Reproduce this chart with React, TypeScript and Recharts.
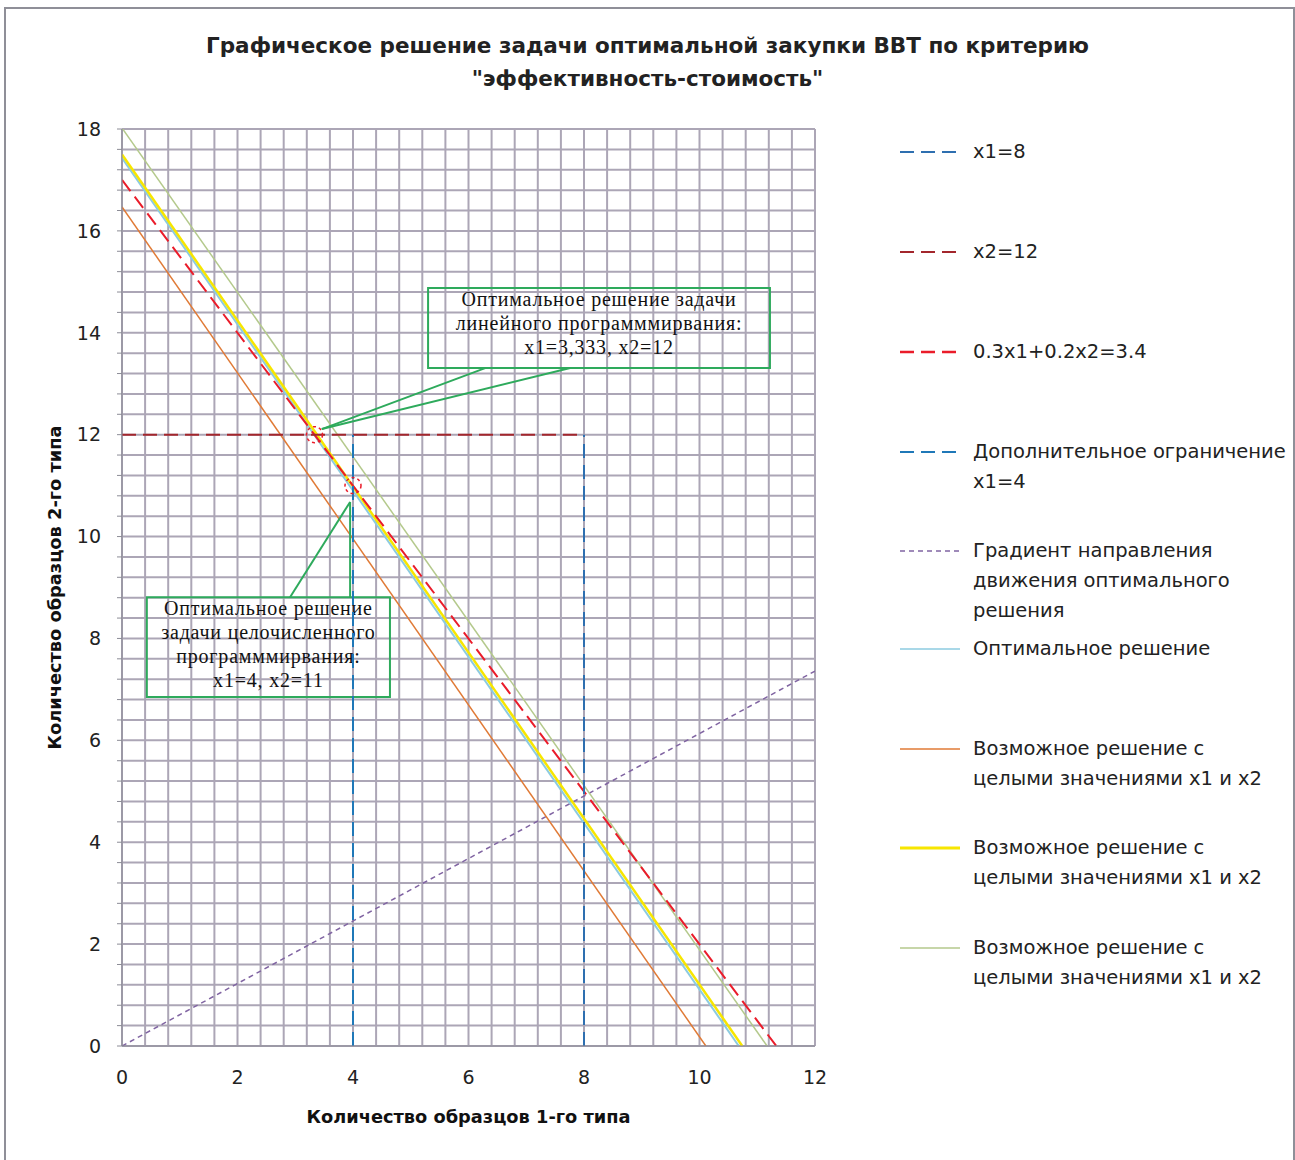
import React from 'react';
import {
  LineChart, Line, XAxis, YAxis, CartesianGrid, ReferenceArea, ReferenceLine, ReferenceDot, Label,
} from 'recharts';

// значения
const gridX = Array.from({ length: 31 }, (_, i) => Number((i * 0.4).toFixed(1)));
const gridY = Array.from({ length: 46 }, (_, i) => Number((i * 0.4).toFixed(1)));

const limitX1 = [{ x: 8, y: 0 }, { x: 8, y: 12 }];
const limitX2 = [{ x: 0, y: 12 }, { x: 8, y: 12 }];
const costLine = [{ x: 0, y: 17 }, { x: 11.33, y: 0 }];
const extraX1 = [{ x: 4, y: 0 }, { x: 4, y: 12 }];
const gradient = [{ x: 0, y: 0 }, { x: 12, y: 7.36 }];
const optimal = [{ x: 0, y: 17.43 }, { x: 10.68, y: 0 }];
const intOrange = [{ x: 0, y: 16.47 }, { x: 10.11, y: 0 }];
const intYellow = [{ x: 0, y: 17.5 }, { x: 10.74, y: 0 }];
const intGreen = [{ x: 0, y: 18.02 }, { x: 11.17, y: 0 }];

const lpPoint = { x: 3.333, y: 12 };
const ipPoint = { x: 4, y: 11 };

const lpText = ['Оптимальное решение задачи', 'линейного программмирвания:', 'x1=3,333, x2=12'];
const ipText = ['Оптимальное решение', 'задачи целочисленного', 'программмирвания:', 'x1=4, x2=11'];

const legendItems = [
  { name: 'x1=8', color: '#2e6fb0', dash: '14 7', width: 2, top: 140 },
  { name: 'x2=12', color: '#a3262c', dash: '14 7', width: 2, top: 240 },
  { name: '0.3x1+0.2x2=3.4', color: '#ea1c2a', dash: '14 7', width: 2.5, top: 340 },
  { name: 'Дополнительное ограничение\nx1=4', color: '#1f78b8', dash: '14 7', width: 2, top: 440 },
  { name: 'Градиент направления\nдвижения оптимального\nрешения', color: '#8064a2', dash: '5 4', width: 1.5, top: 539 },
  { name: 'Оптимальное решение', color: '#8ccbe0', dash: '', width: 1.5, top: 637 },
  { name: 'Возможное решение с\nцелыми значениями x1 и x2', color: '#e07a36', dash: '', width: 1.5, top: 737 },
  { name: 'Возможное решение с\nцелыми значениями x1 и x2', color: '#f7e600', dash: '', width: 3, top: 836 },
  { name: 'Возможное решение с\nцелыми значениями x1 и x2', color: '#b4c98c', dash: '', width: 1.5, top: 936 },
];

const GREEN = '#2eaa5c';
const GRID = '#aca6b6';

const isMajor = (v: number) => Math.abs(v / 2 - Math.round(v / 2)) < 1e-6;

const XTick = ({ x, y, payload }: any) =>
  isMajor(payload.value) ? (
    <text x={x} y={y} dy="0.71em" textAnchor="middle" fontSize={19} fill="#222">{payload.value}</text>
  ) : null;

const YTick = ({ x, y, payload }: any) =>
  isMajor(payload.value) ? (
    <text x={x} y={y} dy="0.355em" textAnchor="end" fontSize={19} fill="#222">{payload.value}</text>
  ) : null;

const BoxText = ({ viewBox, lines }: any) => {
  const { x, y, width } = viewBox;
  return (
    <text x={x + width / 2} textAnchor="middle" fontFamily="'Liberation Serif', serif" fontSize={20} letterSpacing={0.8} fill="#111">
      {lines.map((t: string, i: number) => (
        <tspan key={i} x={x + width / 2} y={y + 18 + i * 24}>{t}</tspan>
      ))}
    </text>
  );
};

export default function App() {
  return (
    <div style={{ position: 'relative', width: 1295, height: 1160, background: '#fff', fontFamily: "'DejaVu Sans', sans-serif", overflow: 'hidden' }}>
      <style>{'body{margin:0}'}</style>
      <div style={{ position: 'absolute', left: 4, top: 7, width: 1287, height: 1160, borderLeft: '2px solid #8f8f98', borderTop: '2px solid #8f8f98', borderRight: '2px solid #8f8f98' }} />
      <div style={{ position: 'absolute', left: 0, top: 29, width: 1295, textAlign: 'center', fontWeight: 'bold', fontSize: 21.5, lineHeight: '33px', color: '#222' }}>
        Графическое решение задачи оптимальной закупки ВВТ по критерию<br />"эффективность-стоимость"
      </div>

      <div style={{ position: 'absolute', left: 0, top: 0 }}>
        <LineChart width={1295} height={1160} margin={{ top: 129, right: 480, bottom: 84, left: 62 }}>
          <CartesianGrid stroke={GRID} strokeWidth={2} />
          <XAxis
            type="number" dataKey="x" domain={[0, 12]} ticks={gridX} interval={0} allowDataOverflow
            stroke="#8c8c96" tick={<XTick />} tickLine={false} tickMargin={19} height={30}
          >
            <Label value="Количество образцов  1-го типа" position="bottom" offset={34} style={{ fontWeight: 'bold', fontSize: 17.8, fill: '#111' }} />
          </XAxis>
          <YAxis
            type="number" domain={[0, 18]} ticks={gridY} interval={0} allowDataOverflow
            stroke="#8c8c96" tick={<YTick />} tickSize={5} tickMargin={16} width={60}
          >
            <Label value="Количество образцов  2-го типа" angle={-90} position="left" offset={7} style={{ fontWeight: 'bold', fontSize: 17.8, fill: '#111', textAnchor: 'middle' }} />
          </YAxis>

          <Line data={gradient} dataKey="y" stroke="#8064a2" strokeWidth={1.5} strokeDasharray="5 4" dot={false} isAnimationActive={false} />
          <Line data={intOrange} dataKey="y" stroke="#e07a36" strokeWidth={1.5} dot={false} isAnimationActive={false} />
          <Line data={intGreen} dataKey="y" stroke="#b4c98c" strokeWidth={1.5} dot={false} isAnimationActive={false} />
          <Line data={optimal} dataKey="y" stroke="#8ccbe0" strokeWidth={2} dot={false} isAnimationActive={false} />
          <Line data={intYellow} dataKey="y" stroke="#f7e600" strokeWidth={2.5} dot={false} isAnimationActive={false} />
          <Line data={costLine} dataKey="y" stroke="#ea1c2a" strokeWidth={2} strokeDasharray="14 7" dot={false} isAnimationActive={false} />
          <Line data={limitX2} dataKey="y" stroke="#a3262c" strokeWidth={2} strokeDasharray="14 7" dot={false} isAnimationActive={false} />
          <Line data={limitX1} dataKey="y" stroke="#2e6fb0" strokeWidth={2} strokeDasharray="14 7" dot={false} isAnimationActive={false} />
          <Line data={extraX1} dataKey="y" stroke="#1f78b8" strokeWidth={2} strokeDasharray="14 7" dot={false} isAnimationActive={false} />

          <ReferenceDot x={lpPoint.x} y={lpPoint.y} r={8} fill="none" stroke="#ea1c2a" strokeDasharray="3 3" strokeWidth={1.5} />
          <ReferenceDot x={ipPoint.x} y={ipPoint.y} r={8} fill="none" stroke="#ea1c2a" strokeDasharray="3 3" strokeWidth={1.5} />

          {/* выноски */}
          <ReferenceArea x1={5.3} x2={11.22} y1={13.31} y2={14.88} fill="none" stroke={GREEN} strokeWidth={2}
            label={<BoxText lines={lpText} />} />
          <ReferenceLine segment={[{ x: 6.3, y: 13.31 }, { x: 3.46, y: 12.11 }]} stroke={GREEN} strokeWidth={2} />
          <ReferenceLine segment={[{ x: 7.76, y: 13.31 }, { x: 3.46, y: 12.11 }]} stroke={GREEN} strokeWidth={2} />

          <ReferenceArea x1={0.43} x2={4.64} y1={6.85} y2={8.81} fill="none" stroke={GREEN} strokeWidth={2}
            label={<BoxText lines={ipText} />} />
          <ReferenceLine segment={[{ x: 2.91, y: 8.81 }, { x: 3.95, y: 10.68 }]} stroke={GREEN} strokeWidth={2} />
          <ReferenceLine segment={[{ x: 3.95, y: 8.81 }, { x: 3.95, y: 10.68 }]} stroke={GREEN} strokeWidth={2} />
        </LineChart>
      </div>

      {legendItems.map((it, i) => (
        <div key={i} style={{ position: 'absolute', left: 900, top: it.top, width: 395, display: 'flex', alignItems: 'flex-start' }}>
          <svg width={62} height={24} style={{ flex: 'none' }}>
            <line x1={0} y1={12} x2={60} y2={12} stroke={it.color} strokeWidth={it.width} strokeDasharray={it.dash || undefined} />
          </svg>
          <div style={{ marginLeft: 11, fontSize: 19.5, lineHeight: '30px', marginTop: -3, color: '#222', whiteSpace: 'pre-line' }}>{it.name}</div>
        </div>
      ))}
    </div>
  );
}
